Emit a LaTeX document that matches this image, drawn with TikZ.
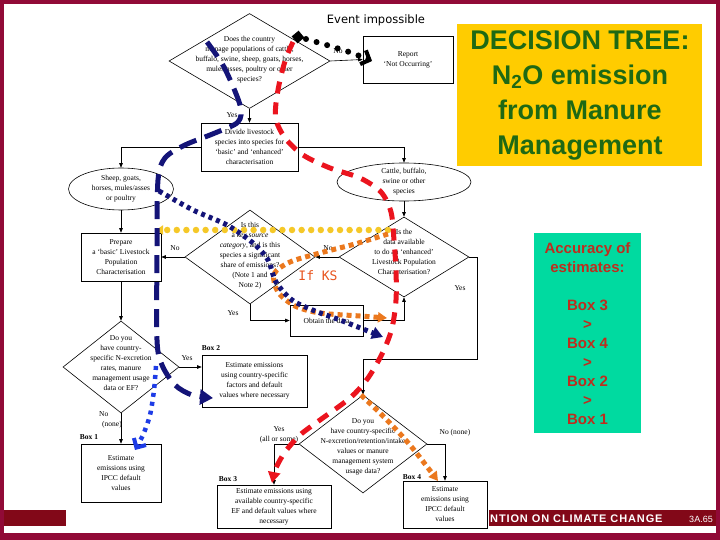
\documentclass[tikz,border=0pt]{standalone}
\usepackage{fontspec}
\setmainfont{Liberation Serif}
\newfontfamily\arialf{Liberation Sans}
\newfontfamily\dejav{DejaVu Sans}
\newfontfamily\dejamono{DejaVu Sans Mono}
\newfontfamily\footf[LetterSpace=8]{Liberation Sans}
\usetikzlibrary{shapes.geometric,arrows.meta}
\definecolor{framec}{RGB}{145,10,55}
\definecolor{bandc}{RGB}{130,8,24}
\definecolor{titley}{RGB}{255,204,0}
\definecolor{titleg}{RGB}{30,105,20}
\definecolor{tealbox}{RGB}{0,218,160}
\definecolor{accc}{RGB}{190,45,30}
\definecolor{navyc}{RGB}{20,20,120}
\definecolor{brightc}{RGB}{30,60,230}
\definecolor{redc}{RGB}{235,20,30}
\definecolor{goldc}{RGB}{245,200,40}
\definecolor{orngc}{RGB}{235,120,30}
\definecolor{ksred}{RGB}{232,84,30}
\begin{document}
\begin{tikzpicture}[x=1pt,y=-1pt,
  fc/.style={font=\fontsize{7.5}{10}\selectfont, align=center, inner sep=0pt},
  box/.style={draw, line width=0.6pt, inner sep=0pt, fc},
  dia/.style={draw, diamond, line width=0.6pt, inner sep=0pt},
  ell/.style={draw, ellipse, line width=0.6pt, inner sep=0pt, fc},
  arr/.style={line width=0.6pt, -{Triangle[length=4.5pt,width=3.5pt]}},
  lbl/.style={fc},
  bx/.style={fc, font=\fontsize{7.5}{10}\selectfont\bfseries},
  titlefont/.style={align=center, inner sep=0pt, font=\arialf\bfseries\fontsize{27}{35}\selectfont},
  reddash/.style={redc, line width=5pt, dash pattern=on 12pt off 9pt},
  navydash/.style={navyc, line width=5pt, dash pattern=on 18pt off 9pt},
  navydot/.style={navyc, line width=5pt, dash pattern=on 4pt off 4pt},
  bluedot/.style={brightc, line width=4.5pt, dash pattern=on 4pt off 5pt},
  golddot/.style={goldc, line width=6.5pt, line cap=round, dash pattern=on 0pt off 9.6pt},
  orangedot/.style={orngc, line width=5pt, dash pattern=on 5pt off 4pt},
  blackdot/.style={black, line width=6pt, line cap=round, dash pattern=on 0pt off 11pt}
]
\useasboundingbox (0,0) rectangle (720,540);
% frame and footer
\fill[framec] (0,0) rectangle (720,540);
\fill[white] (4,4) rectangle (716,533);
\fill[bandc] (4,510) rectangle (716,526);
\fill[white] (66,505) rectangle (489,533);
\node[anchor=west, text=white, inner sep=0pt, font=\footf\bfseries\fontsize{11}{13}\selectfont] (foot) at (490,519) {NTION ON CLIMATE CHANGE};
\node[text=white, inner sep=0pt, font=\arialf\fontsize{9}{11}\selectfont] (pg) at (701,519) {3A.65};

% title box
\node[fill=titley, minimum width=245pt, minimum height=142pt, inner sep=0pt] (tbox) at (579.5,95) {};
\node[titlefont, text=titleg] (ttl) at (580,95) {DECISION TREE:\\N\textsubscript{2}O emission\\from Manure\\Management};

% accuracy box
\node[fill=tealbox, minimum width=107pt, minimum height=200pt, inner sep=0pt] (abox) at (587.5,333) {};
\node[text=accc, align=center, inner sep=0pt, font=\arialf\bfseries\fontsize{15}{19}\selectfont] (atxt) at (587.5,334) {Accuracy of\\estimates:\\[19pt]Box 3\\>\\Box 4\\>\\Box 2\\>\\Box 1};

% flowchart nodes
\node[dia, minimum width=161pt, minimum height=95pt] (d1) at (249.5,61) {};
\node[fc] (d1t) at (249.5,60) {Does the country\\manage populations of cattle,\\buffalo, swine, sheep, goats, horses,\\mules/asses, poultry or other\\species?};
\node[box, minimum width=90pt, minimum height=47pt] (report) at (408,59.5) {Report\\`Not Occurring'};
\node[box, minimum width=97pt, minimum height=48pt] (divide) at (249.5,147) {Divide livestock\\species into species for\\`basic' and `enhanced'\\characterisation};
\node[ell, minimum width=105pt, minimum height=42pt] (sheep) at (121,189) {Sheep, goats,\\horses, mules/asses\\or poultry};
\node[ell, minimum width=134pt, minimum height=37pt] (cattle) at (404,182) {Cattle, buffalo,\\swine or other\\species};
\node[dia, minimum width=130pt, minimum height=94pt] (d2) at (250,257) {};
\node[fc] (d2t) at (250,256) {Is this\\a \textit{key source}\\\textit{category}, and is this\\species a significant\\share of emissions?\\(Note 1 and\\Note 2)};
\node[dia, minimum width=130pt, minimum height=80pt] (d3) at (404,257) {};
\node[fc] (d3t) at (404,252) {Is the\\data available\\to do an `enhanced'\\Livestock Population\\Characterisation?};
\node[box, minimum width=80pt, minimum height=48pt] (prepare) at (121,257) {Prepare\\a `basic' Livestock\\Population\\Characterisation};
\node[box, minimum width=73pt, minimum height=31pt] (obtain) at (326.5,320.5) {Obtain the data};
\node[dia, minimum width=116pt, minimum height=92pt] (d4) at (121,367) {};
\node[fc] (d4t) at (121,363) {Do you\\have country-\\specific N-excretion\\rates, manure\\management usage\\data or EF?};
\node[box, minimum width=105pt, minimum height=52pt] (box2) at (254.5,381) {Estimate emissions\\using country-specific\\factors and default\\values where necessary};
\node[box, minimum width=80pt, minimum height=58pt] (box1) at (121,473) {Estimate\\emissions using\\IPCC default\\values};
\node[dia, minimum width=128pt, minimum height=98pt] (d5) at (363,444) {};
\node[fc] (d5t) at (363,447) {Do you\\have country-specific\\N-excretion/retention/intake\\values or manure\\management system\\usage data?};
\node[box, minimum width=114pt, minimum height=43pt] (box3) at (274,506.5) {Estimate emissions using\\available country-specific\\EF and default values where\\necessary};
\node[box, minimum width=84pt, minimum height=47pt] (box4) at (445,504.5) {Estimate\\emissions using\\IPCC default\\values};
\coordinate (ya) at (477,359);

% labels
\node[lbl] (l1) at (338,51) {No};
\node[lbl] (l2) at (232,115) {Yes};
\node[lbl] (l3) at (175,248) {No};
\node[lbl] (l4) at (328,248) {No};
\node[lbl] (l5) at (233,313) {Yes};
\node[lbl] (l6) at (460,288) {Yes};
\node[bx] (l7) at (211,348) {Box 2};
\node[lbl] (l8) at (187,358) {Yes};
\node[lbl, anchor=west, align=left] (l9) at (99,420) {No\\\hspace*{3pt}(none)};
\node[bx] (l10) at (89,437) {Box 1};
\node[lbl] (l11) at (279,435) {Yes\\(all or some)};
\node[lbl] (l12) at (455,433) {No (none)};
\node[bx] (l13) at (228,479) {Box 3};
\node[bx] (l14) at (412,477) {Box 4};

% connectors
\draw[arr] (d1.east) -- (report.west);
\draw[arr] (d1.south) -- (divide.north);
\draw[arr] (divide.west) -| (sheep.north);
\draw[arr] (divide.east) -| (cattle.north);
\draw[arr] (sheep.south) -- (prepare.north);
\draw[arr] (cattle.south) -- (d3.north);
\draw[arr] (d3.west) -- (d2.east);
\draw[arr] (d2.west) -- (prepare.east);
\draw[arr] (prepare.south) -- (d4.north);
\draw[arr] (d4.east) -- (d4.east -| box2.west);
\draw[arr] (d4.south) -- (box1.north);
\draw[arr] (d2.south) |- (obtain.west);
\draw[arr] (obtain.east) -| (d3.south);
\draw[arr] (d3.east) -| (ya) -| (d5.north);
\draw[arr] (d5.west) -| (box3.north);
\draw[arr] (d5.east) -| (box4.north);

% annotations
\node[text=black, inner sep=0pt, font=\dejav\fontsize{11.5}{13}\selectfont] (ev) at (376,20) {Event impossible};
\node[text=ksred, inner sep=0pt, font=\dejamono\fontsize{13}{15}\selectfont] (ks) at (318,276) {If KS};

\draw[golddot, -{Triangle[length=7pt,width=9pt]}] (388,230) -- (156,230);
\draw[orangedot, -{Triangle[length=9pt,width=10pt]}] plot[smooth] coordinates {(388,234) (355,244) (320,253) (290,262) (274,274) (278,292) (295,306) (320,313) (360,316) (387,318)};
\draw[orangedot, -{Triangle[length=9pt,width=10pt]}] plot[smooth] coordinates {(361,395) (385,418) (410,445) (438,481)};
\draw[navydot, -{Triangle[length=11pt,width=12pt]}] plot[smooth] coordinates {(159,191) (193,210) (227,225) (253,243) (268,260) (276,282) (292,300) (315,311) (340,320) (383,337)};
\draw[navydash, -{Triangle[length=13pt,width=15pt]}] plot[smooth] coordinates {(207,42) (224,67) (240,105) (238,122) (215,133) (185,145) (165,158) (158,180) (157,250) (157,340) (162,365) (175,385) (192,395) (213,398)};
\draw[bluedot, -{Straight Barb[length=7pt,width=14pt,line width=4pt]}] plot[smooth] coordinates {(156,366) (154,390) (150,415) (143,435) (135,450)};
\draw[reddash, -{Triangle[length=11pt,width=12pt]}] plot[smooth] coordinates {(293,42) (286,58) (280,80) (276,103) (276,120) (285,138) (303,155) (330,168) (360,178) (381,192) (391,212) (394,240) (396,270) (396,300) (392,328) (383,352) (368,378) (350,398) (320,420) (300,435) (285,452) (276,468) (272,483)};
\node[fill=black, minimum size=9pt, inner sep=0pt, rotate=40] (bsq) at (298,37) {};
\draw[blackdot, -{Straight Barb[length=7pt,width=15pt,line width=4pt]}] plot[smooth] coordinates {(306,39) (330,46) (352,53) (372,61)};
\end{tikzpicture}
\end{document}
